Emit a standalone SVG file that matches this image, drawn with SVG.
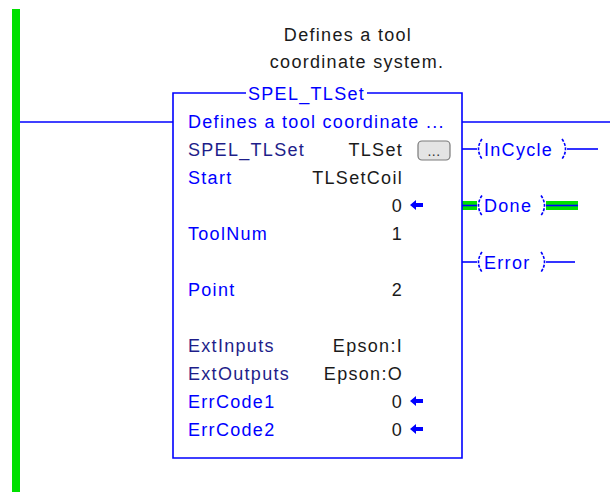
<svg xmlns="http://www.w3.org/2000/svg" width="610" height="492" viewBox="0 0 610 492">
<style>
  text { font-family: "Liberation Sans", Arial, sans-serif; font-size: 18px; letter-spacing: 1.3px; }
  .hd { fill: #1a1a1a; text-anchor: middle; }
  .lb { fill: #0000ff; }
  .lbd { fill: #1e1e8a; }
  .val { fill: #1a1a1a; text-anchor: end; }
  .ln { stroke: #0000ff; stroke-width: 1.6; fill: none; }
  .coil { stroke: #0000ff; stroke-width: 1.6; fill: none; stroke-dasharray: 3 1.5; }
  .ct { fill: #0000ff; }
</style>
<defs>
  <path id="arr" d="M0,0 L6,-5 L6,-2 L13,-2 L13,2 L6,2 L6,5 Z" fill="#0000ff"/>
</defs>
<rect x="0" y="0" width="610" height="492" fill="#ffffff"/>
<g id="rail">
  <rect x="12" y="9" width="8" height="483" fill="#00e000"/>
</g>
<g id="description">
  <text class="hd" x="348" y="41">Defines a tool</text>
  <text class="hd" x="357" y="68">coordinate system.</text>
</g>
<g id="connectors">
  <line class="ln" x1="20" y1="122" x2="173" y2="122"/>
  <line class="ln" x1="462" y1="122" x2="610" y2="122"/>
  <line class="ln" x1="462" y1="149" x2="477" y2="149"/>
  <line class="ln" x1="567" y1="149" x2="598" y2="149"/>
  <rect x="462" y="201" width="15" height="9" fill="#00e000"/>
  <rect x="546" y="201" width="32" height="9" fill="#00e000"/>
  <line class="ln" x1="462" y1="205.5" x2="477" y2="205.5"/>
  <line class="ln" x1="546" y1="205.5" x2="578" y2="205.5"/>
  <line class="ln" x1="462" y1="262" x2="477" y2="262"/>
  <line class="ln" x1="546" y1="262" x2="575" y2="262"/>
</g>
<g id="block">
  <path class="ln" d="M246,93 H173 V458 H462 V93 H367"/>
  <text class="lb" x="248" y="100">SPEL_TLSet</text>
  <text class="lb" x="188" y="128">Defines a tool coordinate ...</text>
  <text class="lbd" x="188" y="156">SPEL_TLSet</text>
  <text class="val" x="403" y="156">TLSet</text>
  <rect x="418" y="141" width="32" height="19" rx="4" fill="#e4e4e4" stroke="#7a7a7a" stroke-width="1.2"/>
  <text x="434" y="156" fill="#333" text-anchor="middle" style="font-size:14px;letter-spacing:0.5px">...</text>
  <text class="lb" x="188" y="184">Start</text>
  <text class="val" x="403" y="184">TLSetCoil</text>
  <text class="val" x="403" y="212">0</text>
  <use href="#arr" x="410" y="205"/>
  <text class="lb" x="188" y="240">ToolNum</text>
  <text class="val" x="403" y="240">1</text>
  <text class="lb" x="188" y="296">Point</text>
  <text class="val" x="403" y="296">2</text>
  <text class="lbd" x="188" y="352">ExtInputs</text>
  <text class="val" x="403" y="352">Epson:I</text>
  <text class="lbd" x="188" y="380">ExtOutputs</text>
  <text class="val" x="403" y="380">Epson:O</text>
  <text class="lb" x="188" y="408">ErrCode1</text>
  <text class="val" x="403" y="408">0</text>
  <use href="#arr" x="410" y="401"/>
  <text class="lb" x="188" y="436">ErrCode2</text>
  <text class="val" x="403" y="436">0</text>
  <use href="#arr" x="410" y="429"/>
</g>
<g id="coil-incycle">
  <path class="coil" d="M482,139 Q475,149 482,159"/>
  <text class="ct" x="484" y="156">InCycle</text>
  <path class="coil" d="M562,139 Q569,149 562,159"/>
</g>
<g id="coil-done">
  <path class="coil" d="M482,195.5 Q475,205.5 482,215.5"/>
  <text class="ct" x="484" y="212">Done</text>
  <path class="coil" d="M541,195.5 Q548,205.5 541,215.5"/>
</g>
<g id="coil-error">
  <path class="coil" d="M482,252 Q475,262 482,272"/>
  <text class="ct" x="484" y="269">Error</text>
  <path class="coil" d="M541,252 Q548,262 541,272"/>
</g>
</svg>
